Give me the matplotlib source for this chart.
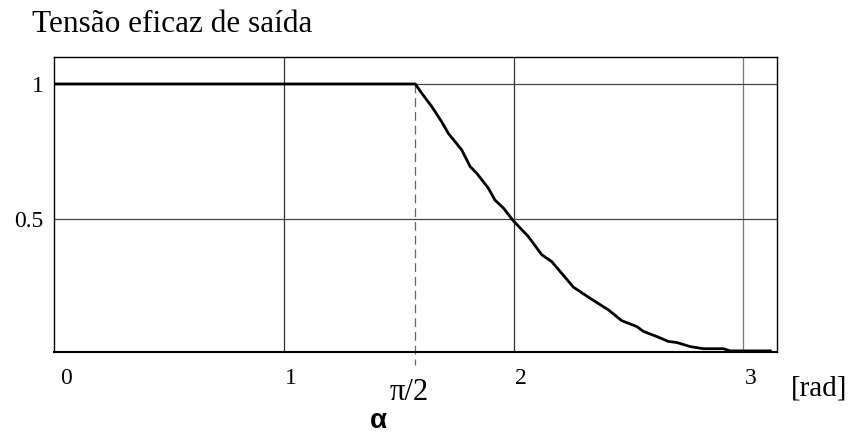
import numpy as np
import matplotlib.pyplot as plt

# firing angle [rad] and normalised rms output voltage
alpha_rad = [0.0, 1.571, 1.599, 1.643, 1.686, 1.715, 1.773, 1.810, 1.839, 1.889,
             1.918, 1.955, 1.998, 2.064, 2.122, 2.165, 2.260, 2.332, 2.412,
             2.470, 2.536, 2.565, 2.623, 2.673, 2.710, 2.768, 2.826, 2.913,
             2.942, 3.117]
v_rms = [1.0, 1.0, 0.966, 0.916, 0.860, 0.817, 0.756, 0.694, 0.669, 0.614,
         0.570, 0.540, 0.493, 0.434, 0.367, 0.342, 0.247, 0.206, 0.163,
         0.123, 0.101, 0.083, 0.064, 0.046, 0.042, 0.027, 0.019, 0.019,
         0.011, 0.011]

x_ticks = [0, 1, 2, 3]
x_tick_labels = ["0", "1", "2", "3"]
y_ticks = [0.5, 1]
y_tick_labels = ["0.5", "1"]

SERIF = ["Liberation Serif", "DejaVu Serif"]

fig = plt.figure(figsize=(8.54, 4.33), dpi=100)
ax = fig.add_axes([0.0638, 0.1878, 0.9095 - 0.0638, 0.8684 - 0.1878])

# grid
for xv, c in zip([1, 2, 3], ["#333333", "#333333", "#777777"]):
    ax.axvline(xv, color=c, lw=0.9, zorder=1)
for yv in y_ticks:
    ax.axhline(yv, color="#444444", lw=0.9, zorder=1)

# alpha = pi/2 marker, runs a bit below the axis
ax.plot([np.pi / 2, np.pi / 2], [1.0, -0.04], color="#666666", lw=0.9,
        dashes=(7, 4), clip_on=False, zorder=2)

ax.plot(alpha_rad, v_rms, color="black", lw=2.0, zorder=3,
        solid_joinstyle="round")

ax.set_xlim(0, 3.145)
ax.set_ylim(0.008, 1.1)

for s in ax.spines.values():
    s.set_linewidth(1.0)
    s.set_color("black")
ax.spines["bottom"].set_linewidth(1.5)

ax.set_xticks([])
ax.set_yticks(y_ticks)
ax.set_yticklabels(y_tick_labels, family=SERIF, fontsize=17)
ax.tick_params(axis="y", length=0, pad=8)

# x labels sit just right of each grid line
trans = ax.get_xaxis_transform()
for xv, lab in zip(x_ticks, x_tick_labels):
    off = 0.05 if xv == 0 else 0.03
    ax.text(xv + off, -0.09, lab, transform=trans, ha="center", va="center",
            family=SERIF, fontsize=17)

ax.text(3.33, -0.125, "[rad]", transform=trans, ha="center", va="center",
        family=SERIF, fontsize=21, clip_on=False)
ax.text(1.545, -0.14, "π/2", transform=trans, ha="center", va="center",
        family=SERIF, fontsize=22)
ax.text(1.41, -0.235, "α", transform=trans, ha="center", va="center",
        family=["Liberation Sans", "DejaVu Sans"], fontsize=20,
        fontweight="bold")

fig.text(32 / 854, 1 - 32 / 433, "Tensão eficaz de saída", ha="left",
         va="baseline", family=SERIF, fontsize=22.5)

fig.savefig("out.png", dpi=100)
